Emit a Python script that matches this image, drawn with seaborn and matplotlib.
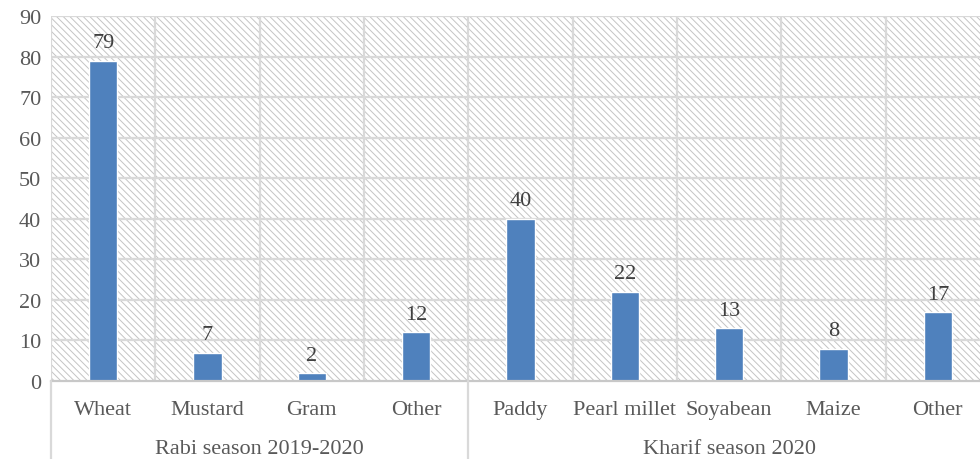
import matplotlib
matplotlib.use("Agg")
import matplotlib.pyplot as plt
import matplotlib.transforms as mtransforms
from matplotlib.lines import Line2D
from matplotlib.patches import Rectangle
import seaborn as sns
import pandas as pd
import numpy as np

# Crop shares by season (percent)
crops = ["Wheat", "Mustard", "Gram", "Other",
         "Paddy", "Pearl millet", "Soyabean", "Maize", "Other"]
shares = [79, 7, 2, 12, 40, 22, 13, 8, 17]
seasons = ["Rabi season 2019-2020", "Kharif season 2020"]
season_sizes = [4, 5]
y_ticks = [0, 10, 20, 30, 40, 50, 60, 70, 80, 90]

sns.set_theme(style="white")
plt.rcParams["font.family"] = ["Liberation Serif", "DejaVu Serif"]
plt.rcParams["hatch.linewidth"] = 0.7

text_color = "#595959"
grid_color = "#d9d9d9"
bar_color = "#4f81bd"
fs = 16

df = pd.DataFrame({"pos": np.arange(len(crops)), "share": shares})

fig = plt.figure(figsize=(9.8, 4.6), dpi=100)
ax = fig.add_axes([51 / 980, 1 - 382 / 460, 939 / 980, 365 / 460])

# hatched plot background
ax.patch.set_facecolor("white")
bg = Rectangle((0, 0), 1, 1, transform=ax.transAxes, facecolor="white",
               edgecolor="#c4c4c4", hatch="\\\\\\\\\\", linewidth=0, zorder=0)
ax.add_patch(bg)

sns.barplot(data=df, x="pos", y="share", color=bar_color, width=0.27,
            saturation=1, ax=ax, zorder=3)

for c in ax.containers:
    ax.bar_label(c, fmt="%d", padding=6, fontsize=fs, color="#404040")

n = len(crops)
ax.set_xlim(-0.5, n - 0.5)
ax.set_ylim(0, 90)
ax.set_yticks(y_ticks)
ax.set_xticks(np.arange(n))
ax.set_xticklabels(crops)
ax.set_xlabel("")
ax.set_ylabel("")
ax.tick_params(axis="x", length=0, pad=14, labelsize=fs, labelcolor=text_color)
ax.tick_params(axis="y", length=0, pad=7, labelsize=fs, labelcolor=text_color)

# horizontal and vertical gridlines
for yv in y_ticks[1:]:
    ax.axhline(yv, color=grid_color, lw=1.6, zorder=1)
for xv in np.arange(n + 1) - 0.5:
    ax.axvline(xv, color=grid_color, lw=1.6, zorder=1)

for s in ["top", "right", "left"]:
    ax.spines[s].set_visible(False)
ax.spines["bottom"].set_color("#c8c8c8")
ax.spines["bottom"].set_linewidth(1.6)
ax.spines["bottom"].set_zorder(4)

# season group separators and labels below the axis
trans = mtransforms.blended_transform_factory(ax.transData, fig.transFigure)
ax_bottom = ax.get_position().y0
bounds = np.concatenate([[0], np.cumsum(season_sizes)]) - 0.5
for b in bounds:
    fig.add_artist(Line2D([b, b], [0, ax_bottom], transform=trans,
                          color=grid_color, lw=1.6))
for i, name in enumerate(seasons):
    mid = (bounds[i] + bounds[i + 1]) / 2
    fig.text(mid, 0.022, name, transform=trans, ha="center", va="center",
             fontsize=fs, color=text_color)

fig.savefig("out.png", dpi=100)
